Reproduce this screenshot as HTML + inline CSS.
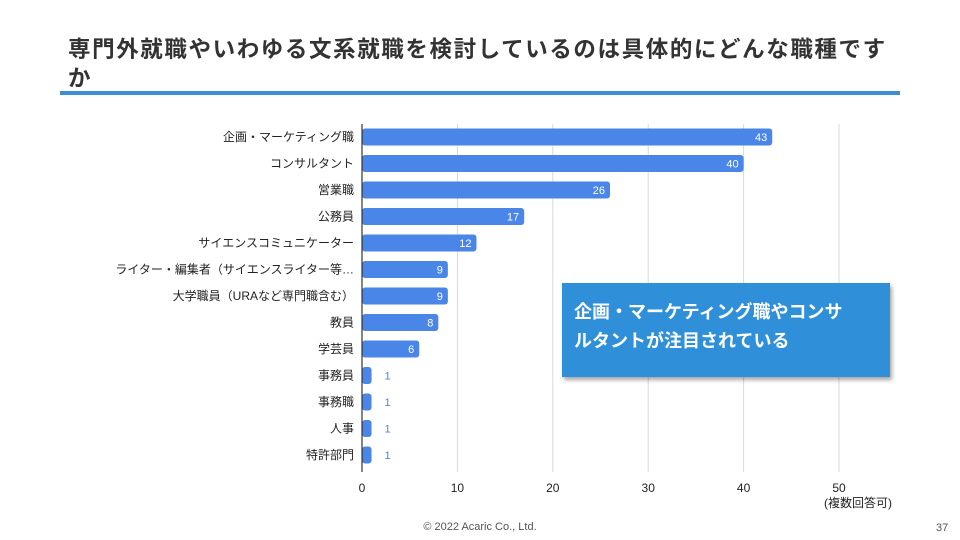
<!DOCTYPE html>
<html><head><meta charset="utf-8">
<style>
body{margin:0;background:#fff;font-family:"Liberation Sans","Noto Sans CJK JP",sans-serif;}
#wrap{position:relative;width:960px;height:540px;overflow:hidden;background:#fff;}
#title{position:absolute;left:68px;top:35px;width:880px;font-size:22.5px;font-weight:bold;color:#333;line-height:29px;letter-spacing:1.6px;white-space:nowrap;}
#rule{position:absolute;left:60px;top:91px;width:840px;height:4px;background:#3b8fd6;}
#callout{position:absolute;left:562px;top:283px;width:328px;height:94px;background:#2f8fd9;box-shadow:2px 3px 4px rgba(0,0,0,0.35);color:#fff;font-weight:bold;font-size:18px;line-height:29px;box-sizing:border-box;padding:15px 0 0 12px;}
#footer{position:absolute;left:0;width:960px;top:521px;text-align:center;font-size:11px;color:#555;}
#page{position:absolute;left:936px;top:522px;font-size:11px;color:#555;}
</style></head><body>
<div id="wrap">
<div id="title">専門外就職やいわゆる文系就職を検討しているのは具体的にどんな職種です<br>か</div>
<div id="rule"></div>
<svg id="chart" width="960" height="540" style="position:absolute;left:0;top:0"></svg>
<div id="callout">企画・マーケティング職やコンサ<br>ルタントが注目されている</div>
<div id="footer">© 2022 Acaric Co., Ltd.</div>
<div id="page">37</div>
</div>
<script>
const categories=["企画・マーケティング職","コンサルタント","営業職","公務員","サイエンスコミュニケーター","ライター・編集者（サイエンスライター等…","大学職員（URAなど専門職含む）","教員","学芸員","事務員","事務職","人事","特許部門"];
const values=[43,40,26,17,12,9,9,8,6,1,1,1,1];
const ticks=[0,10,20,30,40,50];
const NS="http://www.w3.org/2000/svg";
const svg=document.getElementById('chart');
const x0=362,pxPer=9.54,yTop=124,yBot=472,row0=137,rowStep=26.5,barH=17;
const xs=v=>x0+v*pxPer;
const ys=i=>row0+i*rowStep;
function mk(t,a){const e=document.createElementNS(NS,t);for(const k in a)e.setAttribute(k,a[k]);svg.appendChild(e);return e;}
ticks.forEach(t=>{
  if(t>0){const g=mk('line',{x1:xs(t),x2:xs(t),y1:yTop,y2:yBot,stroke:'#d9d9d9','stroke-width':1});
  
  }
  const l=mk('text',{x:xs(t),y:yBot+20,'text-anchor':'middle','font-size':12,fill:'#222'});
  l.textContent=t;
  
  
});
const note=mk('text',{x:xs(50)+53,y:yBot+35,'text-anchor':'end','font-size':12,fill:'#222'});
note.textContent='(複数回答可)';


categories.forEach((c,i)=>{
  const y=ys(i);
  const b=mk('rect',{x:x0,y:y-barH/2,width:Math.max(values[i]*pxPer,1),height:barH,rx:3,fill:'#4a86e8'});
  
  
  const lab=mk('text',{x:354,y:y+4,'text-anchor':'end','font-size':12,fill:'#222'});
  lab.textContent=c;
  
  
  const inside=values[i]>=3;
  const v=mk('text',{x:inside?xs(values[i])-5:xs(values[i])+13,y:y+4,'text-anchor':inside?'end':'start','font-size':11,fill:inside?'#fff':'#4a86e8'});
  v.textContent=values[i];
  
  
});
const ax=mk('line',{x1:x0,x2:x0,y1:yTop,y2:yBot,stroke:'#333','stroke-width':1.2});


</script>
</body></html>
